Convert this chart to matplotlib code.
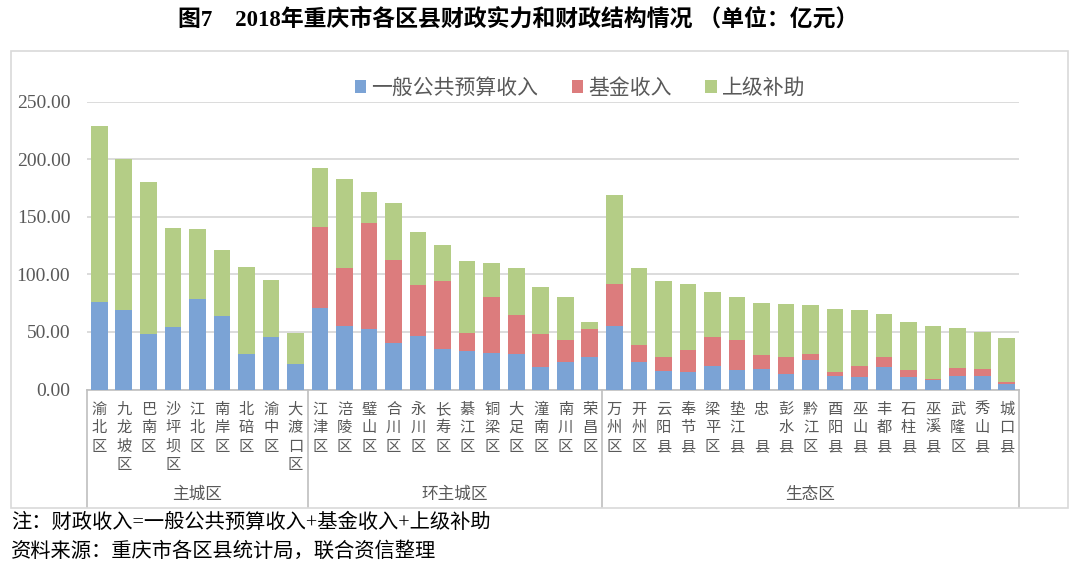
import numpy as np
import matplotlib
matplotlib.use("Agg")
from matplotlib import pyplot as plt
from matplotlib.patches import Rectangle, Patch
import matplotlib.transforms as mtransforms

plt.rcParams["font.family"] = ["Noto Sans CJK SC", "DejaVu Sans"]

# data (亿元)
districts = ["渝北区", "九龙坡区", "巴南区", "沙坪坝区", "江北区", "南岸区", "北碚区", "渝中区", "大渡口区",
             "江津区", "涪陵区", "璧山区", "合川区", "永川区", "长寿区", "綦江区", "铜梁区", "大足区", "潼南区", "南川区", "荣昌区",
             "万州区", "开州区", "云阳县", "奉节县", "梁平区", "垫江县", "忠县", "彭水县", "黔江区", "酉阳县", "巫山县",
             "丰都县", "石柱县", "巫溪县", "武隆区", "秀山县", "城口县"]
groups = ["主城区", "环主城区", "生态区"]
group_sizes = [9, 12, 17]
general_budget = [76.3, 69.0, 48.2, 54.6, 78.4, 64.1, 30.6, 45.9, 21.9,
                  71.1, 55.2, 52.3, 40.7, 46.7, 35.5, 33.5, 31.7, 30.8, 19.3, 23.6, 28.5,
                  55.3, 23.6, 15.8, 15.5, 20.4, 16.7, 17.8, 13.2, 25.4, 11.7, 10.6, 19.3, 10.9, 8.0, 12.0, 11.7, 4.8]
fund_income = [0, 0, 0, 0, 0, 0, 0, 0, 0,
               69.8, 50.3, 92.6, 72.1, 43.8, 58.8, 15.3, 48.9, 33.7, 29.2, 19.1, 23.8,
               36.1, 15.1, 12.2, 19.1, 25.2, 26.3, 12.2, 14.8, 5.7, 3.2, 9.8, 8.7, 5.8, 1.1, 6.9, 6.4, 1.7]
transfer = [152.7, 131.0, 132.1, 85.4, 60.8, 57.1, 75.6, 49.2, 27.4,
            51.3, 77.3, 26.7, 49.0, 46.6, 31.5, 63.1, 29.3, 41.1, 40.3, 37.7, 6.3,
            77.6, 66.6, 66.3, 56.8, 39.1, 37.1, 45.4, 46.3, 42.3, 55.0, 48.7, 37.9, 41.7, 45.8, 34.8, 31.9, 38.0]
series_names = ["一般公共预算收入", "基金收入", "上级补助"]
colors = ["#7ba3d5", "#dc7c7d", "#b4cd86"]

W, H = 1080, 573
fig = plt.figure(figsize=(W / 100, H / 100), dpi=100)

# outer chart frame
fig.patches.append(Rectangle((11 / W, 1 - 508 / H), 1057 / W, 457 / H, transform=fig.transFigure,
                             fill=False, edgecolor="#d9d9d9", lw=1.2))

ax = fig.add_axes([87 / W, 1 - 389.5 / H, 932 / W, 287.8 / H])
x = np.arange(len(districts))
b1 = np.array(general_budget)
b2 = np.array(fund_income)
b3 = np.array(transfer)
ax.bar(x, b1, width=0.68, color=colors[0], zorder=3)
ax.bar(x, b2, width=0.68, bottom=b1, color=colors[1], zorder=3)
ax.bar(x, b3, width=0.68, bottom=b1 + b2, color=colors[2], zorder=3)

ax.set_xlim(-0.5, len(districts) - 0.5)
ax.set_ylim(0, 250)
ax.set_yticks(np.arange(0, 251, 50))
ax.set_yticklabels(["%.2f" % v for v in np.arange(0, 251, 50)], family="Liberation Serif",
                   fontsize=14, color="#595959")
ax.tick_params(axis="y", length=0, pad=12)
ax.yaxis.grid(True, color="#d9d9d9", lw=1.3, zorder=0)
for s in ["left", "right", "top"]:
    ax.spines[s].set_visible(False)
ax.spines["bottom"].set_color("#bfbfbf")
ax.spines["bottom"].set_linewidth(1.2)

# vertical category labels
ax.set_xticks(x)
ax.set_xticklabels(["\n".join(" " if c == "" else c for c in (list(d) if d != "忠县" else ["忠", "", "县"]))
                    for d in districts], fontsize=11, color="#595959", linespacing=1.12, va="top")
ax.tick_params(axis="x", length=0, pad=8)

# group boxes
trans = mtransforms.blended_transform_factory(ax.transData, ax.transAxes)
bottom_frac = -(507 - 389.5) / 287.8
edges = np.concatenate([[0], np.cumsum(group_sizes)]) - 0.5
for e in edges:
    ax.plot([e, e], [0, bottom_frac], transform=trans, color="#bfbfbf", lw=1.2, clip_on=False)
for i, g in enumerate(groups):
    ax.text((edges[i] + edges[i + 1]) / 2, -(494 - 389.5) / 287.8, g, transform=trans,
            ha="center", va="center", fontsize=12, color="#595959")

handles = [Patch(facecolor=c, edgecolor="none") for c in colors]
fig.legend(handles, series_names, loc="center", bbox_to_anchor=(580 / W, 1 - 88 / H), ncol=3,
           frameon=False, fontsize=15, handlelength=0.55, handleheight=0.55, handletextpad=0.25,
           columnspacing=1.6, labelcolor="#595959")

fig.text(518 / W, 1 - 19 / H, "图7　2018年重庆市各区县财政实力和财政结构情况 （单位：亿元）",
         ha="center", va="center", fontsize=16.5, fontweight="bold",
         family=["Liberation Serif", "Noto Sans CJK SC"])
fig.text(11 / W, 1 - 523 / H, "注：财政收入=一般公共预算收入+基金收入+上级补助", ha="left", va="center",
         fontsize=14.6, family=["Liberation Serif", "Noto Sans CJK SC"])
fig.text(11 / W, 1 - 552 / H, "资料来源：重庆市各区县统计局，联合资信整理", ha="left", va="center",
         fontsize=14.6, family=["Liberation Serif", "Noto Sans CJK SC"])

fig.savefig("out.png", dpi=100)
